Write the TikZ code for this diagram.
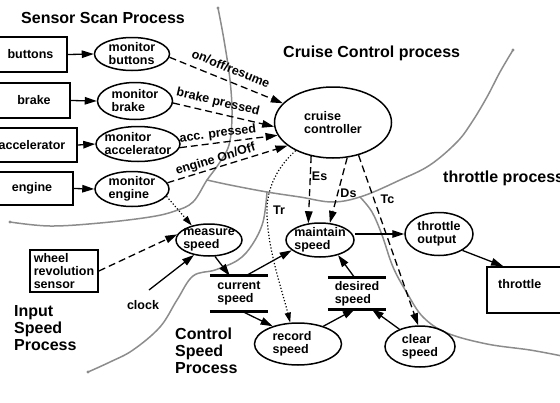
\documentclass[tikz,border=0pt]{standalone}
\usepackage{fontspec}
\setmainfont{Liberation Sans}
\usetikzlibrary{arrows.meta,shapes.geometric}
\begin{document}
\begin{tikzpicture}[x=1pt,y=-1pt,
  lbl/.style={font=\bfseries\fontsize{12.5}{13}\selectfont, align=left, inner sep=0pt},
  ttl/.style={font=\bfseries\fontsize{16}{17}\selectfont, align=left, inner sep=0pt},
  proc/.style={ellipse, draw, line width=1.5pt, inner sep=0pt},
  box/.style={draw, line width=1.7pt, inner sep=0pt, lbl},
  store/.style={inner sep=0pt, lbl},
  bar/.style={line width=3pt},
  arr/.style={line width=1.3pt, -{Triangle[length=12pt,width=7.5pt]}},
  dsh/.style={arr, dash pattern=on 7pt off 4pt},
  dotline/.style={line width=1.2pt, dash pattern=on 1.2pt off 2pt, -{Triangle[length=10pt,width=6pt]}},
  gline/.style={draw=black!45, line width=1.5pt, line cap=round, line join=round},
  gdot/.style={fill=black!45},
  elbl/.style={lbl, sloped, anchor=south, outer xsep=0pt, outer ysep=#1},
  elbl/.default=3pt
]
\useasboundingbox (0,0) rectangle (560,402);

% ---- gray process boundaries
\draw[gline] plot[smooth, tension=0.6] coordinates {(218,8) (224,40) (230,80) (232,115) (229,145) (218,165) (207,180) (193,202) (175,211) (150,217) (100,223) (50,226) (10,222)};
\draw[gline] plot[smooth, tension=0.6] coordinates {(207,180) (230,185) (267,192) (300,197) (333,202) (363,196) (400,180) (430,165) (457,142) (472,122) (487,97) (500,72) (513,50)};
\draw[gline] plot[smooth, tension=0.6] coordinates {(267,192) (263,222) (252,245) (238,260) (215,270) (193,276) (177,300) (160,327) (133,350) (110,362) (88,372)};
\draw[gline] plot[smooth, tension=0.6] coordinates {(360,197) (372,212) (382,235) (393,267) (407,293) (423,317) (447,333) (487,344) (530,350) (562,356)};
\fill[gdot] (218,8) circle (1.6pt);
\fill[gdot] (10,222) circle (1.6pt);
\fill[gdot] (513,50) circle (1.6pt);
\fill[gdot] (88,372) circle (1.6pt);

% ---- titles
\node[ttl, anchor=base west] (tSensor) at (21,23) {Sensor Scan Process};
\node[ttl, anchor=base west] (tCruise) at (283,57) {Cruise Control process};
\node[ttl, anchor=base west] (tThrottle) at (443,182) {throttle process};
\node[ttl, anchor=north west] (tInput) at (14,305) {Input\\Speed\\Process};
\node[ttl, anchor=north west] (tControl) at (175,328) {Control\\Speed\\Process};

% ---- sensor boxes
\node[box, minimum width=73pt, minimum height=35pt] (bB) at (30.5,54.5) {buttons};
\node[box, minimum width=72pt, minimum height=35pt] (bBr) at (34,100.5) {brake};
\node[box, minimum width=90pt, minimum height=34pt] (bA) at (32,145) {accelerator};
\node[box, minimum width=82pt, minimum height=33pt] (bE) at (32,188.5) {engine};
\node[box, minimum width=68pt, minimum height=42pt] (bW) at (64,271) {wheel\\revolution\\sensor};
\node[box, minimum width=88pt, minimum height=46pt] (thr) at (531,290) {};
\node[lbl, anchor=west] (thrT) at (498,284) {throttle};

% ---- processes
\node[proc, minimum width=75pt, minimum height=33pt, label={[lbl]center:{monitor\\buttons}}] (mB) at (132,54) {};
\node[proc, minimum width=75pt, minimum height=37pt, label={[lbl]center:{monitor\\brake}}] (mBr) at (135,101) {};
\node[proc, minimum width=84pt, minimum height=35pt, label={[lbl]center:{monitor\\accelerator}}] (mA) at (138,144) {};
\node[proc, minimum width=74pt, minimum height=35pt, label={[lbl]center:{monitor\\engine}}] (mE) at (132,189) {};
\node[proc, minimum width=117pt, minimum height=71pt, label={[lbl]center:{cruise\\controller}}] (cc) at (333,122.5) {};
\node[proc, minimum width=66pt, minimum height=32pt, label={[lbl]center:{measure\\speed}}] (msp) at (209,240) {};
\node[proc, minimum width=68pt, minimum height=34pt, label={[lbl]center:{maintain\\speed}}] (ms) at (320,240) {};
\node[proc, minimum width=68pt, minimum height=43pt, label={[lbl]center:{throttle\\output}}] (tout) at (439,234) {};
\node[proc, minimum width=87pt, minimum height=42pt, label={[lbl,xshift=-6pt]center:{record\\speed}}] (rs) at (298,344) {};
\node[proc, minimum width=70pt, minimum height=41pt, label={[lbl]center:{clear\\speed}}] (cls) at (420,346.5) {};

% ---- data stores
\node[store, minimum width=58pt, minimum height=35pt] (cs) at (239,293.5) {current\\speed};
\draw[bar] (cs.north west) -- (cs.north east);
\draw[bar] (cs.south west) -- (cs.south east);
\node[store, minimum width=58pt, minimum height=31pt] (ds) at (357,293.5) {desired\\speed};
\draw[bar] (ds.north west) -- (ds.north east);
\draw[bar] (ds.south west) -- (ds.south east);

\node[lbl] (clock) at (143,305) {clock};
\coordinate (clk) at (149,290);

% ---- sensor arrows
\draw[arr] (bB.east) -- (mB.west);
\draw[arr] (bBr.east) -- (mBr.west);
\draw[arr] (bA.east) -- (mA.west);
\draw[arr] (bE.east) -- (mE.west);

\draw[dsh] (mB.-5) -- node[elbl=8pt, pos=0.5] {on/off/resume} (cc.159);
\draw[dsh] (mBr.-3) -- node[elbl=5pt, pos=0.42] {brake pressed} (cc.184);
\draw[dsh] (mA.-5) -- node[elbl=3pt, pos=0.4] {acc. pressed} (cc.193);
\draw[dsh] (mE.10) -- node[elbl=2pt, pos=0.42] {engine On/Off} (cc.207);

% ---- control arrows
\draw[dotline] (mE.-12) -- (msp.140);
\draw[dsh] (bW.east) -- (msp.170);
\draw[arr] (clk) -- (msp.225);
\draw[arr] (msp.290) -- ([xshift=20pt]cs.north west);
\draw[arr] ([xshift=36pt]cs.north west) -- (ms.200);
\draw[arr] ([xshift=32pt]cs.south west) -- (rs.145);
\draw[arr] (rs.35) -- ([xshift=27pt]ds.south west);
\draw[arr] (cls.140) -- ([xshift=44pt]ds.south west);
\draw[arr] ([xshift=27pt]ds.north west) -- (ms.-40);
\draw[arr] (ms.east |- tout.west) -- (tout.west);
\draw[arr] (tout.-35) -- ([xshift=17pt]thr.north west);

\draw[dsh] (cc.237) -- node[lbl, right=1pt, pos=0.3] {Es} (ms.125);
\draw[dsh] (cc.292) -- node[lbl, right=2pt, pos=0.54] {Ds} (ms.60);
\draw[dsh] (cc.308) -- node[lbl, right=6pt, pos=0.26] {Tc} (cls.95);
\draw[dotline] (cc.217) .. controls (274,170) and (266,193) .. (267,215)
               .. controls (268,250) and (282,290) .. (rs.110);
\node[lbl] (trL) at (279,210) {Tr};
\end{tikzpicture}
\end{document}
